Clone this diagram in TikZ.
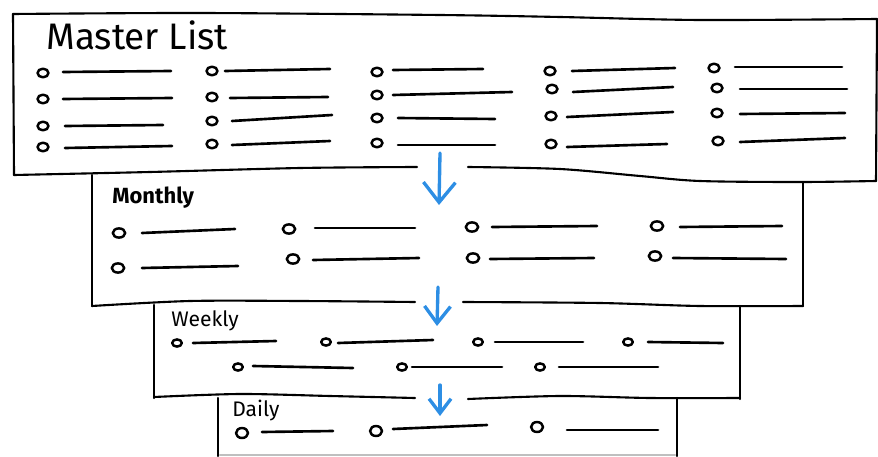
\documentclass[tikz,border=0pt]{standalone}
\usepackage{fontspec}
\setmainfont{Fira Sans}
\usetikzlibrary{arrows.meta}
\definecolor{arrowblue}{RGB}{45,142,228}

\begin{document}
\begin{tikzpicture}[x=0.02cm,y=-0.02cm,line cap=round,line join=round,
		frame/.style={line width=1.2pt},
		stroke/.style={line width=1.5pt},
		bullet/.style={line width=1.4pt},
		flow/.style={draw=arrowblue,line width=1.9pt},
		title/.style={anchor=base west,inner sep=0pt},
		>={Straight Barb[length=0.4cm,width=0.64cm]}]
	\useasboundingbox (0,0) rectangle (878,456);
	% Master list frame
	\draw[frame] plot[smooth] coordinates {(13,14) (200,13) (440,15) (560,17) (700,20) (877,19)};
	\draw[frame] (13,14) -- (14,175);
	\draw[frame] (877,19) -- (876,181);
	\draw[frame] plot[smooth] coordinates {(14,175) (150,172) (300,168) (417,167)};
	\draw[frame] plot[smooth] coordinates {(468,167) (560,169) (640,176) (700,181) (800,182) (876,181)};
	\node[title,font=\fontsize{21}{25}\selectfont] (master) at (46,50) {Master List};
	\foreach \bx/\by/\la/\lb/\ya/\yb in {43/73/63/171/72/71, 43/99/63/172/99/98, 43/126/65/163/126/125, 43/147/65/172/148/146,
			212/71/225/330/71/69, 212/97/230/328/98/97, 212/121/232/332/121/115, 212/144/232/330/145/141,
			377/72/393/483/70/69, 377/95/393/512/95/92, 377/118/398/495/118/119, 377/143/398/495/145/145,
			550/71/572/675/71/68, 552/89/573/673/92/87, 551/116/567/673/117/112, 551/144/567/667/147/144,
			714/68/735/842/67/67, 717/88/740/847/89/89, 717/113/740/845/114/113, 718/141/740/845/142/138} {
		\draw[bullet] (\bx,\by) ellipse [x radius=5.5,y radius=4.3];
		\draw[stroke] (\la,\ya) -- (\lb,\yb);
	}
	% Monthly frame
	\draw[frame] (92,175) -- (92,306);
	\draw[frame] (803,183) -- (803,306);
	\draw[frame] plot[smooth] coordinates {(92,306) (190,301) (300,301) (415,302)};
	\draw[frame] plot[smooth] coordinates {(463,302) (600,303) (700,306) (803,306)};
	\node[title,font=\fontsize{12.5}{15}\selectfont\bfseries] (monthly) at (112,203) {Monthly};
	\foreach \bx/\by/\la/\lb/\ya/\yb in {119/233/142/235/233/229, 118/268/142/238/268/266,
			289/229/315/415/228/228, 293/259/313/419/260/258,
			472/227/492/597/227/226, 473/258/490/594/259/258,
			657/226/680/782/227/226, 655/256/673/786/258/259} {
		\draw[bullet] (\bx,\by) ellipse [x radius=6.2,y radius=4.6];
		\draw[stroke] (\la,\ya) -- (\lb,\yb);
	}
	% Weekly frame
	\draw[frame] (154,305) -- (154,398);
	\draw[frame] (740,306) -- (740,399);
	\draw[frame] plot[smooth] coordinates {(154,397) (240,394) (330,396) (415,398)};
	\draw[frame] plot[smooth] coordinates {(468,399) (560,396) (650,398) (740,398)};
	\node[title,font=\fontsize{12}{14}\selectfont] (weekly) at (171,326) {Weekly};
	\foreach \bx/\by/\la/\lb/\ya/\yb in {177/343/193/276/343/341, 326/342/338/433/343/340,
			478/342/495/583/342/342, 628/342/648/723/342/343,
			238/367/253/353/366/368, 402/367/412/502/367/367, 540/367/559/658/367/367} {
		\draw[bullet] (\bx,\by) ellipse [x radius=4.8,y radius=3.6];
		\draw[stroke] (\la,\ya) -- (\lb,\yb);
	}
	% Daily frame
	\draw[frame] (218,398) -- (218,456);
	\draw[frame] (677,398) -- (677,456);
	\draw[line width=1.2pt,black!25] (220,455) -- (675,455);
	\node[title,font=\fontsize{12}{14}\selectfont] (daily) at (232,416) {Daily};
	\foreach \bx/\by/\la/\lb/\ya/\yb in {242/433/262/333/432/431, 376/431/393/487/429/425, 537/427/567/658/430/430} {
		\draw[bullet] (\bx,\by) ellipse [x radius=6,y radius=5];
		\draw[stroke] (\la,\ya) -- (\lb,\yb);
	}
	% arrows between the lists
	\coordinate (master-out) at (440,153);
	\coordinate (monthly-in) at (439,205);
	\coordinate (monthly-out) at (438,287);
	\coordinate (weekly-in) at (437,326);
	\coordinate (weekly-out) at (440,385);
	\coordinate (daily-in) at (440,416);
	\draw[flow,->] (master-out) -- (monthly-in);
	\draw[flow,-{Straight Barb[length=0.34cm,width=0.52cm]}] (monthly-out) -- (weekly-in);
	\draw[flow,-{Straight Barb[length=0.29cm,width=0.44cm]}] (weekly-out) -- (daily-in);
\end{tikzpicture}
\end{document}
